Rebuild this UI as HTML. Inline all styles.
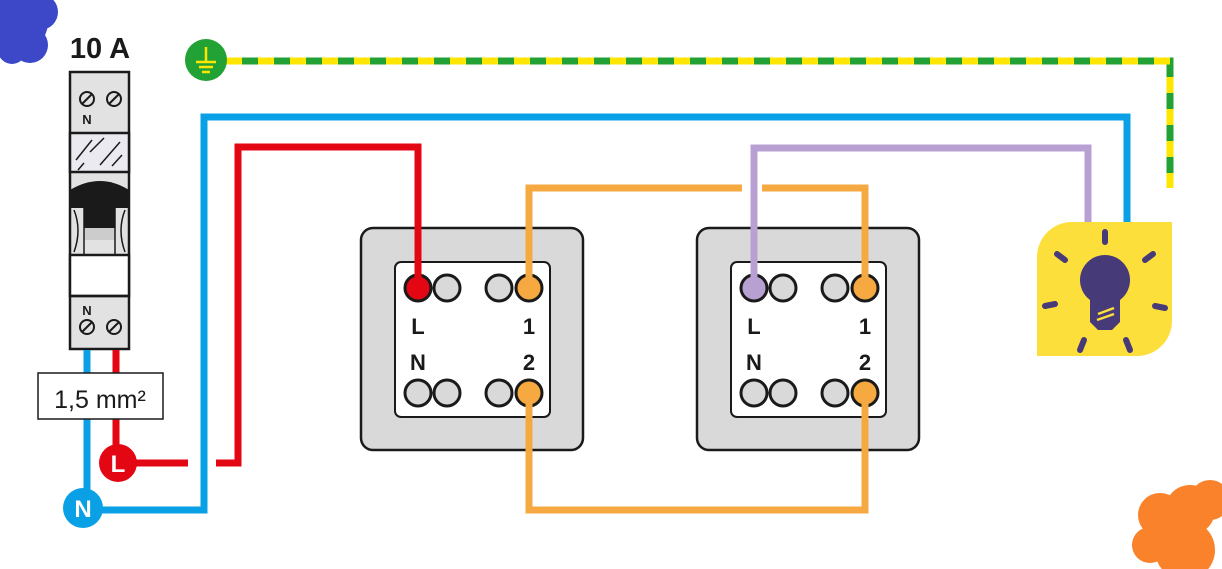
<!DOCTYPE html>
<html><head><meta charset="utf-8"><style>body{margin:0;background:#fff}svg{display:block}text{font-family:"Liberation Sans",sans-serif;font-weight:bold}</style></head><body>
<svg width="1222" height="569" viewBox="0 0 1222 569" xmlns="http://www.w3.org/2000/svg">
<g fill="#3d48c8"><circle cx="18" cy="22" r="30"/><circle cx="40" cy="12" r="18"/><circle cx="12" cy="50" r="14"/><circle cx="30" cy="45" r="18"/></g>
<g fill="#f9822b"><circle cx="1190" cy="510" r="25"/><circle cx="1160" cy="515" r="22"/><circle cx="1150" cy="545" r="18"/><circle cx="1185" cy="550" r="30"/><circle cx="1210" cy="500" r="20"/></g>
<text x="100" y="58" font-size="29" text-anchor="middle" fill="#1a1a1a">10 A</text>
<g stroke="#1a1a1a" stroke-width="2.5">
<rect x="70" y="72" width="59" height="277" fill="#e2e2e2"/>
<rect x="70" y="133" width="59" height="39" fill="#eaeaf0"/>
<rect x="70" y="255" width="59" height="41" fill="#fff"/>
<line x1="70" y1="296" x2="129" y2="296"/>
</g>
<path d="M70 190 Q100 172 129 190 L129 205 L70 205Z" fill="#1a1a1a"/>
<rect x="70" y="198" width="59" height="10" fill="#1a1a1a"/>
<rect x="84" y="206" width="31" height="22" fill="#1a1a1a"/>
<rect x="84" y="228" width="31" height="12" fill="#ccc"/>
<g stroke="#1a1a1a" stroke-width="1.5" fill="none"><line x1="84" y1="206" x2="84" y2="255"/><line x1="115" y1="206" x2="115" y2="255"/><path d="M74 210 Q82 230 74 252"/><path d="M125 210 Q117 230 125 252"/>
<line x1="76" y1="160" x2="92" y2="140"/><line x1="90" y1="152" x2="104" y2="138"/><line x1="100" y1="165" x2="120" y2="142"/><line x1="78" y1="170" x2="84" y2="163"/><line x1="112" y1="166" x2="122" y2="155"/></g>
<g stroke="#1a1a1a" stroke-width="2" fill="#e2e2e2">
<circle cx="87" cy="99" r="7"/><circle cx="114" cy="99" r="7"/><circle cx="87" cy="327" r="7"/><circle cx="114" cy="327" r="7"/></g>
<g stroke="#1a1a1a" stroke-width="2"><line x1="82" y1="104" x2="92" y2="94"/><line x1="109" y1="104" x2="119" y2="94"/><line x1="82" y1="332" x2="92" y2="322"/><line x1="109" y1="332" x2="119" y2="322"/></g>
<text x="87" y="124" font-size="13" text-anchor="middle" fill="#1a1a1a">N</text>
<text x="87" y="315" font-size="13" text-anchor="middle" fill="#1a1a1a">N</text>
<!-- switch boxes first -->
<rect x="361" y="228" width="222" height="222" rx="12" fill="#d9d9d9" stroke="#1a1a1a" stroke-width="2.5"/>
<rect x="395" y="262" width="155" height="155" rx="6" fill="#fff" stroke="#1a1a1a" stroke-width="2"/>
<rect x="697" y="228" width="222" height="222" rx="12" fill="#d9d9d9" stroke="#1a1a1a" stroke-width="2.5"/>
<rect x="731" y="262" width="155" height="155" rx="6" fill="#fff" stroke="#1a1a1a" stroke-width="2"/>
<g fill="none" stroke-width="7" stroke-linejoin="miter">
<path d="M87 350 V508" stroke="#0aa0e6"/>
<path d="M116 350 V463" stroke="#e30613"/>
<path d="M118 463 H188 M216 463 H238 V147 H418 V288" stroke="#e30613"/>
<path d="M83 510 H204 V117 H1127 V225" stroke="#0aa0e6"/>
<path d="M529 288 V188 H742 M762 188 H865 V288" stroke="#f6a940"/>
<path d="M529 393 V510 H865 V393" stroke="#f6a940"/>
<path d="M754 288 V148 H1088 V225" stroke="#b9a0d2"/>
<path d="M226 61 H1170 V188" stroke="#22a135"/>
<path d="M226 61 H1170 V188" stroke="#ffe600" stroke-dasharray="16 16"/>
</g>
<rect x="38" y="373" width="125" height="46" fill="#fff" stroke="#1a1a1a" stroke-width="1.5"/>
<text x="100" y="408" font-size="25" style="font-weight:normal" text-anchor="middle" fill="#1a1a1a">1,5 mm²</text>
<circle cx="118" cy="463" r="19" fill="#e30613"/><text x="118" y="472" font-size="24" fill="#fff" text-anchor="middle">L</text>
<circle cx="83" cy="508" r="20" fill="#0aa0e6"/><text x="83" y="517" font-size="24" fill="#fff" text-anchor="middle">N</text>
<circle cx="206" cy="60" r="21" fill="#22a135"/>
<g stroke="#ffe600" stroke-width="2.5"><line x1="206" y1="47" x2="206" y2="62"/><line x1="196" y1="62" x2="216" y2="62"/><line x1="199" y1="67" x2="213" y2="67"/><line x1="202" y1="72" x2="210" y2="72"/></g>
<g stroke="#1a1a1a" stroke-width="3">
<circle cx="418" cy="288" r="13" fill="#e30613"/><circle cx="447" cy="288" r="13" fill="#d9d9d9"/><circle cx="499" cy="288" r="13" fill="#d9d9d9"/><circle cx="529" cy="288" r="13" fill="#f6a940"/>
<circle cx="418" cy="393" r="13" fill="#d9d9d9"/><circle cx="447" cy="393" r="13" fill="#d9d9d9"/><circle cx="499" cy="393" r="13" fill="#d9d9d9"/><circle cx="529" cy="393" r="13" fill="#f6a940"/>
<circle cx="754" cy="288" r="13" fill="#b9a0d2"/><circle cx="783" cy="288" r="13" fill="#d9d9d9"/><circle cx="835" cy="288" r="13" fill="#d9d9d9"/><circle cx="865" cy="288" r="13" fill="#f6a940"/>
<circle cx="754" cy="393" r="13" fill="#d9d9d9"/><circle cx="783" cy="393" r="13" fill="#d9d9d9"/><circle cx="835" cy="393" r="13" fill="#d9d9d9"/><circle cx="865" cy="393" r="13" fill="#f6a940"/>
</g>
<g stroke-width="7"><line x1="418" y1="270" x2="418" y2="288" stroke="#e30613"/><line x1="529" y1="270" x2="529" y2="288" stroke="#f6a940"/><line x1="529" y1="393" x2="529" y2="412" stroke="#f6a940"/><line x1="754" y1="270" x2="754" y2="288" stroke="#b9a0d2"/><line x1="865" y1="270" x2="865" y2="288" stroke="#f6a940"/><line x1="865" y1="393" x2="865" y2="412" stroke="#f6a940"/></g>
<g font-size="22" fill="#1a1a1a" text-anchor="middle">
<text x="418" y="334">L</text><text x="529" y="334">1</text><text x="418" y="370">N</text><text x="529" y="370">2</text>
<text x="754" y="334">L</text><text x="865" y="334">1</text><text x="754" y="370">N</text><text x="865" y="370">2</text></g>
<path d="M1072 222 H1172 V321 A35 35 0 0 1 1137 356 H1037 V257 A35 35 0 0 1 1072 222Z" fill="#fddf3c"/>
<g stroke="#463a78" stroke-width="6" stroke-linecap="round">
<line x1="1105" y1="232" x2="1105" y2="242"/><line x1="1057" y1="254" x2="1065" y2="260"/><line x1="1153" y1="254" x2="1145" y2="260"/>
<line x1="1045" y1="306" x2="1055" y2="304"/><line x1="1165" y1="308" x2="1155" y2="306"/>
<line x1="1080" y1="350" x2="1084" y2="340"/><line x1="1130" y1="350" x2="1126" y2="340"/></g>
<circle cx="1105" cy="280" r="25" fill="#463a78"/>
<path d="M1090 300 H1120 V322 L1112 330 H1098 L1090 322Z" fill="#463a78"/>
<g stroke="#fddf3c" stroke-width="2.5"><line x1="1098" y1="314" x2="1114" y2="308"/><line x1="1097" y1="320" x2="1114" y2="314"/></g>
</svg>
</body></html>
